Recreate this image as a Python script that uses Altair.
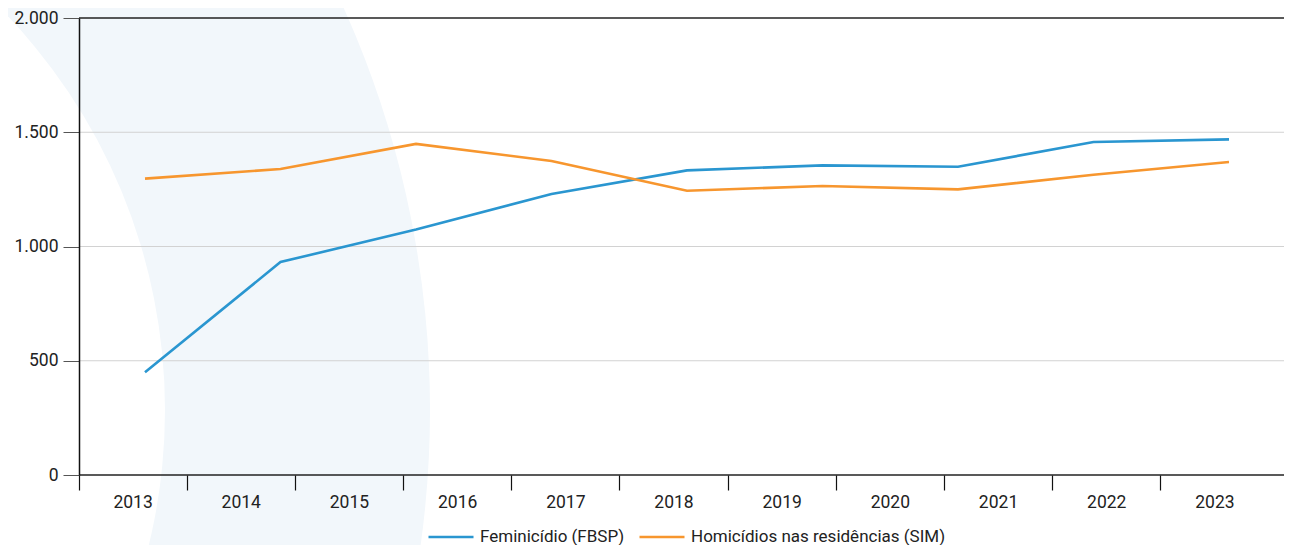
import altair as alt
import pandas as pd

# ---- data ----
anos = [str(a) for a in range(2013, 2024)]
pontos = [0, 1, 2, 3, 4, 5, 6, 7, 8]
feminicidio = [450, 932, 1074, 1230, 1333, 1355, 1349, 1457, 1469]
homicidios = [1297, 1339, 1449, 1374, 1244, 1265, 1250, 1314, 1370]
series = ["Feminicídio (FBSP)", "Homicídios nas residências (SIM)"]
y_ticks = [0, 500, 1000, 1500, 2000]

cores = ["#2a96d0", "#f7962e"]
FONT = "Roboto"
W, H = 1205, 457

lines_df = pd.DataFrame({
    "ponto": pontos + pontos,
    "valor": feminicidio + homicidios,
    "serie": [series[0]] * len(pontos) + [series[1]] * len(pontos),
})
anos_df = pd.DataFrame({"ano": anos, "valor": [0] * len(anos)})
grid_df = pd.DataFrame({"valor": y_ticks})
bg_df = pd.DataFrame({"k": [0]})

yscale = alt.Scale(domain=[0, 2000], nice=False)
yaxis = alt.Axis(
    title=None, values=y_ticks, tickSize=16, tickColor="#555",
    domainColor="#111", domainWidth=1.5, labelPadding=5,
    labelFont=FONT, labelFontSize=17.5, labelColor="#222", grid=False,
    labelExpr="replace(format(datum.value, ','), ',', '.')",
    zindex=2,
)

# decorative background shape
bg_blue = alt.Chart(bg_df).mark_arc(
    color="#f2f7fb", theta=0, theta2=6.2832, radius=979
).encode(x=alt.value(-628), y=alt.value(392))
bg_white = alt.Chart(bg_df).mark_arc(
    color="#ffffff", theta=0, theta2=6.2832, radius=572
).encode(x=alt.value(-486), y=alt.value(392))

grid = alt.Chart(grid_df).mark_rule().encode(
    y=alt.Y("valor:Q", scale=yscale, axis=yaxis),
    color=alt.condition("datum.valor % 2000 == 0", alt.value("#222"), alt.value("#d2d2d2")),
    strokeWidth=alt.condition("datum.valor % 2000 == 0", alt.value(1.6), alt.value(1)),
)

axis_layer = alt.Chart(anos_df).mark_tick(opacity=0).encode(
    x=alt.X(
        "ano:O",
        scale=alt.Scale(type="band", range=[0, 1190], paddingInner=0, paddingOuter=0),
        axis=alt.Axis(
            title=None, bandPosition=0, tickSize=15, tickColor="#111",
            tickWidth=1.2, domain=False, labelPadding=3, labelAngle=0,
            labelFont=FONT, labelFontSize=17.5, labelColor="#222", grid=False,
            zindex=2,
        ),
    ),
    y=alt.Y("valor:Q", scale=yscale, axis=yaxis),
)

lines = alt.Chart(lines_df).mark_line(strokeWidth=2.6).encode(
    x=alt.X("ponto:Q", scale=alt.Scale(domain=[0, 8], range=[66, 1150]), axis=None),
    y=alt.Y("valor:Q", scale=yscale, axis=yaxis),
    color=alt.Color(
        "serie:N",
        scale=alt.Scale(domain=series, range=cores),
        legend=alt.Legend(
            orient="none", legendX=348, legendY=495, title=None,
            direction="horizontal",
            symbolType="stroke", symbolSize=2025, symbolStrokeWidth=2.5,
            labelFont=FONT, labelFontSize=17, labelColor="#222",
            labelLimit=500, columnPadding=9, labelOffset=5, zindex=2,
        ),
    ),
)

chart = alt.layer(bg_blue, bg_white, grid, axis_layer, lines).resolve_scale(
    x="independent"
).properties(
    width=W, height=H,
    autosize=alt.AutoSizeParams(type="none"),
    padding={"left": 71, "top": 10, "right": 0, "bottom": 70},
).configure_view(stroke=None)

chart.save("out.html", embed_options={"renderer": "svg", "actions": False})
